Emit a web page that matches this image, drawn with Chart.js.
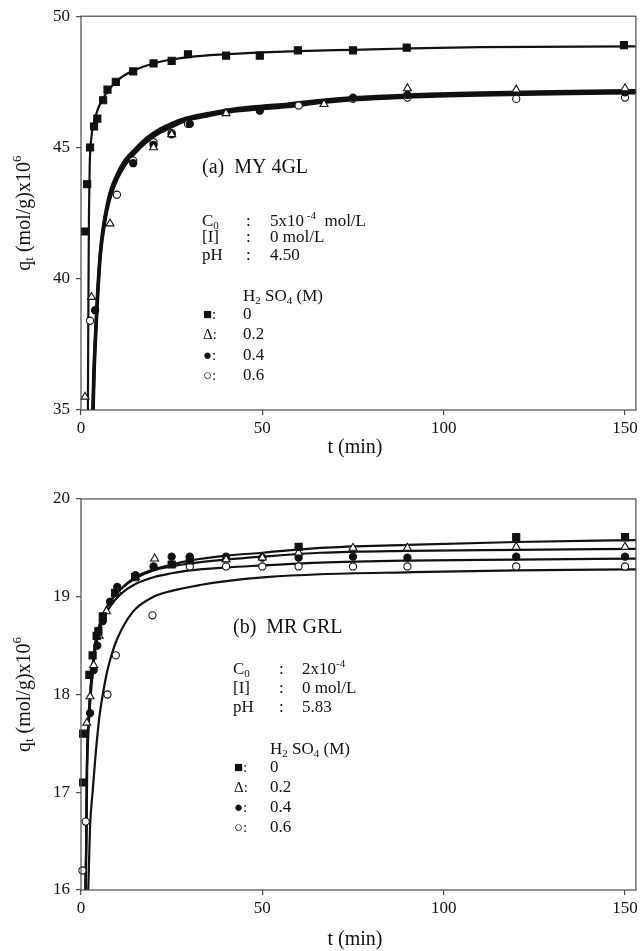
<!DOCTYPE html>
<html>
<head>
<meta charset="utf-8">
<title>Adsorption kinetics - MY 4GL / MR GRL</title>
<script src="https://cdn.jsdelivr.net/npm/chart.js@4.4.0/dist/chart.umd.min.js"></script>
<style>
  html, body { margin: 0; padding: 0; background: #fff; }
  #wrap { position: relative; width: 642px; height: 951px; }
  canvas { position: absolute; left: 0; }
</style>
</head>
<body>
<div id="wrap">
  <canvas id="chartA" width="642" height="470" style="top:0"></canvas>
  <canvas id="chartB" width="642" height="481" style="top:470px"></canvas>
</div>
<script>
// axis ticks
const xTicks = [0, 50, 100, 150];
const yTicksA = [35, 40, 45, 50];
const yTicksB = [16, 17, 18, 19, 20];
const acidLevels = ['0', '0.2', '0.4', '0.6'];

// (a) MY 4GL - measured q_t vs t, one pair per H2SO4 level
const a0T = [1.1, 1.7, 2.5, 3.6, 4.5, 6.1, 7.3, 9.6, 14.4, 20, 25, 29.5, 40, 49.3, 59.8, 75, 89.8, 149.7];
const a0Q = [41.8, 43.6, 45.0, 45.8, 46.1, 46.8, 47.2, 47.5, 47.9, 48.2, 48.3, 48.55, 48.5, 48.5, 48.7, 48.7, 48.8, 48.9];
const a2T = [1.1, 2.9, 8.0, 20, 25, 40, 67, 90, 120, 150];
const a2Q = [35.5, 39.3, 42.1, 45.0, 45.5, 46.3, 46.65, 47.25, 47.2, 47.25];
const a4T = [3.9, 14.4, 20, 25, 30, 49.3, 75, 90, 150];
const a4Q = [38.8, 44.4, 45.1, 45.5, 45.9, 46.4, 46.9, 47.0, 47.1];
const a6T = [2.5, 9.9, 14.4, 20, 25, 29.5, 60, 75, 90, 120, 150];
const a6Q = [38.4, 43.2, 44.5, 45.2, 45.55, 45.9, 46.6, 46.85, 46.9, 46.85, 46.9];

// (a) model curves
const fitA0T = [1.9, 2.0, 2.1, 2.2, 2.4, 2.8, 3.5, 4.5, 6, 8, 10, 14, 20, 25, 30, 40, 50, 60, 75, 90, 110, 153];
const fitA0Q = [35, 38, 40.5, 42.5, 44.3, 45.3, 45.9, 46.4, 46.85, 47.25, 47.55, 47.9, 48.2, 48.35, 48.45, 48.55, 48.62, 48.67, 48.72, 48.77, 48.82, 48.85];
const fitA2T = [3.2, 3.5, 3.9, 4.4, 5.2, 6, 7, 8, 10, 12, 15, 18, 21.7, 25, 29, 35, 41, 50, 57, 66, 75, 90, 110, 130, 153];
const fitA2Q = [35, 36.5, 37.8, 39.2, 40.9, 41.9, 42.7, 43.3, 44.0, 44.5, 44.95, 45.35, 45.7, 45.92, 46.12, 46.3, 46.45, 46.58, 46.66, 46.8, 46.9, 47.0, 47.08, 47.13, 47.17];
const fitA4T = [3.3, 3.6, 4.0, 4.5, 5.3, 6.1, 7.1, 8.1, 10, 12, 15, 18, 21.7, 25, 29, 35, 41, 50, 57, 66, 75, 90, 110, 130, 153];
const fitA4Q = [35, 36.5, 37.8, 39.2, 40.9, 41.85, 42.65, 43.2, 43.9, 44.4, 44.87, 45.27, 45.63, 45.85, 46.08, 46.25, 46.4, 46.52, 46.6, 46.75, 46.86, 46.96, 47.04, 47.09, 47.12];
const fitA6T = [3.4, 3.7, 4.1, 4.6, 5.4, 6.2, 7.2, 8.2, 10, 12, 15, 18, 21.7, 25, 29, 35, 41, 50, 57, 66, 75, 90, 110, 130, 153];
const fitA6Q = [35, 36.5, 37.8, 39.2, 40.9, 41.8, 42.6, 43.15, 43.8, 44.3, 44.8, 45.2, 45.56, 45.78, 46.02, 46.2, 46.35, 46.47, 46.55, 46.7, 46.81, 46.91, 46.99, 47.04, 47.07];

// (b) MR GRL - measured
const b0T = [0.6, 0.6, 2.3, 3.2, 4.3, 4.8, 6, 9.4, 14.9, 25, 30, 60, 120, 150];
const b0Q = [17.1, 17.6, 18.2, 18.4, 18.6, 18.65, 18.8, 19.04, 19.2, 19.33, 19.38, 19.51, 19.61, 19.61];
const b2T = [1.6, 2.5, 3.5, 5, 7, 10, 15, 20.3, 25, 30, 40, 50, 60, 75, 90, 120, 150];
const b2Q = [17.71, 17.98, 18.3, 18.6, 18.85, 19.05, 19.2, 19.39, 19.33, 19.36, 19.38, 19.4, 19.45, 19.5, 19.5, 19.51, 19.51];
const b4T = [2.5, 3.5, 4.5, 6, 8, 10, 15, 20, 25, 30, 40, 50, 60, 75, 90, 120, 150];
const b4Q = [17.81, 18.25, 18.5, 18.75, 18.95, 19.1, 19.22, 19.31, 19.41, 19.41, 19.41, 19.4, 19.4, 19.41, 19.4, 19.41, 19.41];
const b6T = [0.4, 1.3, 7.3, 9.6, 19.7, 30, 40, 50, 60, 75, 90, 120, 150];
const b6Q = [16.2, 16.7, 18.0, 18.4, 18.81, 19.31, 19.31, 19.31, 19.31, 19.31, 19.31, 19.31, 19.31];

// (b) model curves
const fitB0T = [1.2, 1.4, 1.6, 2.0, 2.5, 3.2, 3.9, 5, 6.5, 8.4, 11, 15, 20, 25, 30, 40, 50, 66, 90, 120, 153];
const fitB0Q = [16.0, 16.4, 17.2, 17.7, 18.0, 18.3, 18.52, 18.7, 18.85, 18.97, 19.08, 19.2, 19.28, 19.33, 19.37, 19.42, 19.45, 19.5, 19.53, 19.56, 19.58];
const fitB2T = [1.2, 1.4, 1.6, 2.0, 2.5, 3.2, 3.9, 5, 6.5, 8.4, 11, 15, 20, 25, 30, 40, 50, 66, 90, 120, 153];
const fitB2Q = [16.0, 16.4, 17.2, 17.7, 18.0, 18.3, 18.52, 18.7, 18.85, 18.97, 19.08, 19.19, 19.27, 19.31, 19.34, 19.38, 19.41, 19.45, 19.47, 19.48, 19.49];
const fitB4T = [1.3, 1.5, 1.7, 2.1, 2.6, 3.3, 4, 5, 6.5, 8.4, 11, 15, 20, 25, 30, 40, 50, 66, 90, 120, 153];
const fitB4Q = [16.0, 16.5, 17.2, 17.65, 17.95, 18.25, 18.47, 18.64, 18.8, 18.92, 19.03, 19.13, 19.2, 19.24, 19.27, 19.3, 19.32, 19.35, 19.37, 19.38, 19.39];
const fitB6T = [2.0, 2.5, 3.2, 3.9, 5, 6.1, 7, 8, 10, 14.4, 20, 25, 32.8, 40, 51, 66, 90, 120, 153];
const fitB6Q = [16.0, 16.65, 17.0, 17.33, 17.75, 18.02, 18.2, 18.35, 18.57, 18.85, 19.0, 19.06, 19.12, 19.16, 19.2, 19.23, 19.25, 19.27, 19.28];

const SERIF = '"Liberation Serif", "Times New Roman", serif';
const INK = '#111';

const pts = (ts, qs) => ts.map((t, i) => ({ x: t, y: qs[i] }));

// marker style per H2SO4 level: filled square, open triangle, filled dot, open dot
const markerStyles = [
  { pointStyle: 'rect', pointRadius: 5, backgroundColor: INK, borderColor: INK },
  { pointStyle: 'triangle', pointRadius: 4.6, backgroundColor: '#fff', borderColor: INK },
  { pointStyle: 'circle', pointRadius: 3.6, backgroundColor: INK, borderColor: INK },
  { pointStyle: 'circle', pointRadius: 3.6, backgroundColor: '#fff', borderColor: INK }
];

function markerSet(i, ts, qs) {
  return Object.assign({
    label: acidLevels[i] + ' M',
    data: pts(ts, qs),
    showLine: false,
    borderWidth: 1.1,
    clip: false,
    order: 0
  }, markerStyles[i]);
}

function curveSet(ts, qs, width) {
  return {
    data: pts(ts, qs),
    showLine: true,
    pointRadius: 0,
    borderColor: INK,
    borderWidth: width,
    cubicInterpolationMode: 'monotone',
    order: 1
  };
}

// draws a run of text pieces; kind -1 = subscript, 1 = superscript
function rich(ctx, parts, x, y, size, measureOnly) {
  let cx = x;
  for (const [txt, kind] of parts) {
    const s = kind ? Math.round(size * 0.66) : size;
    ctx.font = s + 'px ' + SERIF;
    const dy = kind === -1 ? size * 0.22 : kind === 1 ? -size * 0.36 : 0;
    if (!measureOnly) ctx.fillText(txt, cx, y + dy);
    cx += ctx.measureText(txt).width;
  }
  return cx - x;
}

const yTitle = [['q', 0], ['t', -1], [' (mol/g)x10', 0], ['6', 1]];
const acidHead = [['H', 0], ['2', -1], [' SO', 0], ['4', -1], [' (M)', 0]];
const symbols = ['\u25A0:', '\u0394:', '\u25CF:', '\u25CB:'];

function drawNotes(ctx, chart, n) {
  const a = chart.chartArea;
  ctx.save();
  ctx.fillStyle = INK;
  ctx.textBaseline = 'middle';
  ctx.textAlign = 'left';

  // box around the plot
  ctx.strokeStyle = '#4a4a4a';
  ctx.lineWidth = 1.2;
  ctx.strokeRect(a.left, a.top, a.right - a.left, a.bottom - a.top);

  // y axis title, rotated
  ctx.save();
  ctx.translate(25, (a.top + a.bottom) / 2);
  ctx.rotate(-Math.PI / 2);
  const w = rich(ctx, yTitle, 0, 0, 20, true);
  rich(ctx, yTitle, -w / 2, 0, 20);
  ctx.restore();

  // x axis title
  ctx.font = '20px ' + SERIF;
  ctx.textAlign = 'center';
  ctx.fillText('t (min)', 355, n.xTitleY);
  ctx.textAlign = 'left';

  // panel title and run conditions
  rich(ctx, n.title, n.left, n.titleY, 20);
  n.rows.forEach((row, i) => {
    const y = n.rowY[i];
    rich(ctx, row[0], n.left, y, 17);
    rich(ctx, [[':', 0]], n.colon, y, 17);
    rich(ctx, row[1], n.value, y, 17);
  });
  rich(ctx, acidHead, n.acidX, n.headY, 17);
  symbols.forEach((s, i) => {
    const y = n.legY[i];
    ctx.font = '15px ' + SERIF;
    ctx.fillText(s, n.left + 1, y);
    rich(ctx, [[acidLevels[i], 0]], n.acidX, y, 17);
  });
  ctx.restore();
}

function makeChart(id, sets, yMin, yMax, yTicks, notes, padTop, xAxisH) {
  const yt = yTicks;
  return new Chart(document.getElementById(id), {
    type: 'scatter',
    data: { datasets: sets },
    options: {
      responsive: false,
      animation: false,
      layout: { padding: { top: padTop, right: 6, left: 0, bottom: 0 } },
      plugins: { legend: { display: false }, tooltip: { enabled: false } },
      scales: {
        x: {
          type: 'linear', min: 0, max: 153,
          afterBuildTicks: s => { s.ticks = xTicks.map(v => ({ value: v })); },
          afterFit: s => { s.height = xAxisH; },
          grid: { drawOnChartArea: false, tickLength: 5, color: '#4a4a4a', lineWidth: 1.2 },
          border: { display: false },
          ticks: { color: INK, font: { family: SERIF, size: 17 }, padding: 3, maxRotation: 0 }
        },
        y: {
          type: 'linear', min: yMin, max: yMax,
          afterBuildTicks: s => { s.ticks = yt.map(v => ({ value: v })); },
          afterFit: s => { s.width = 81; },
          grid: { drawOnChartArea: false, tickLength: 5, color: '#4a4a4a', lineWidth: 1.2 },
          border: { display: false },
          ticks: { color: INK, font: { family: SERIF, size: 17 }, padding: 6 }
        }
      }
    },
    plugins: [{
      id: 'notes',
      afterDatasetsDraw(chart) { drawNotes(chart.ctx, chart, notes); }
    }]
  });
}

makeChart('chartA', [
  markerSet(0, a0T, a0Q), markerSet(1, a2T, a2Q), markerSet(2, a4T, a4Q), markerSet(3, a6T, a6Q),
  curveSet(fitA0T, fitA0Q, 2.2), curveSet(fitA2T, fitA2Q, 3),
  curveSet(fitA4T, fitA4Q, 3), curveSet(fitA6T, fitA6Q, 3)
], 35, 50, yTicksA, {
  title: [['(a)  MY 4GL', 0]], titleY: 168, left: 202, colon: 246, value: 270,
  rows: [
    [[['C', 0], ['0', -1]], [['5x10', 0], [' -4', 1], ['  mol/L', 0]]],
    [[['[I]', 0]], [['0 mol/L', 0]]],
    [[['pH', 0]], [['4.50', 0]]]
  ],
  rowY: [222, 238, 256], acidX: 243, headY: 297, legY: [315, 335, 356, 376],
  xTitleY: 448
}, 15, 60);

makeChart('chartB', [
  markerSet(0, b0T, b0Q), markerSet(1, b2T, b2Q), markerSet(2, b4T, b4Q), markerSet(3, b6T, b6Q),
  curveSet(fitB0T, fitB0Q, 2.2), curveSet(fitB2T, fitB2Q, 2.2),
  curveSet(fitB4T, fitB4Q, 2.2), curveSet(fitB6T, fitB6Q, 2.2)
], 16, 20, yTicksB, {
  title: [['(b)  MR GRL', 0]], titleY: 158, left: 233, colon: 279, value: 302,
  rows: [
    [[['C', 0], ['0', -1]], [['2x10', 0], ['-4', 1]]],
    [[['[I]', 0]], [['0 mol/L', 0]]],
    [[['pH', 0]], [['5.83', 0]]]
  ],
  rowY: [200, 219, 238], acidX: 270, headY: 280, legY: [298, 318, 338, 358],
  xTitleY: 470
}, 29, 61);
</script>
</body>
</html>
